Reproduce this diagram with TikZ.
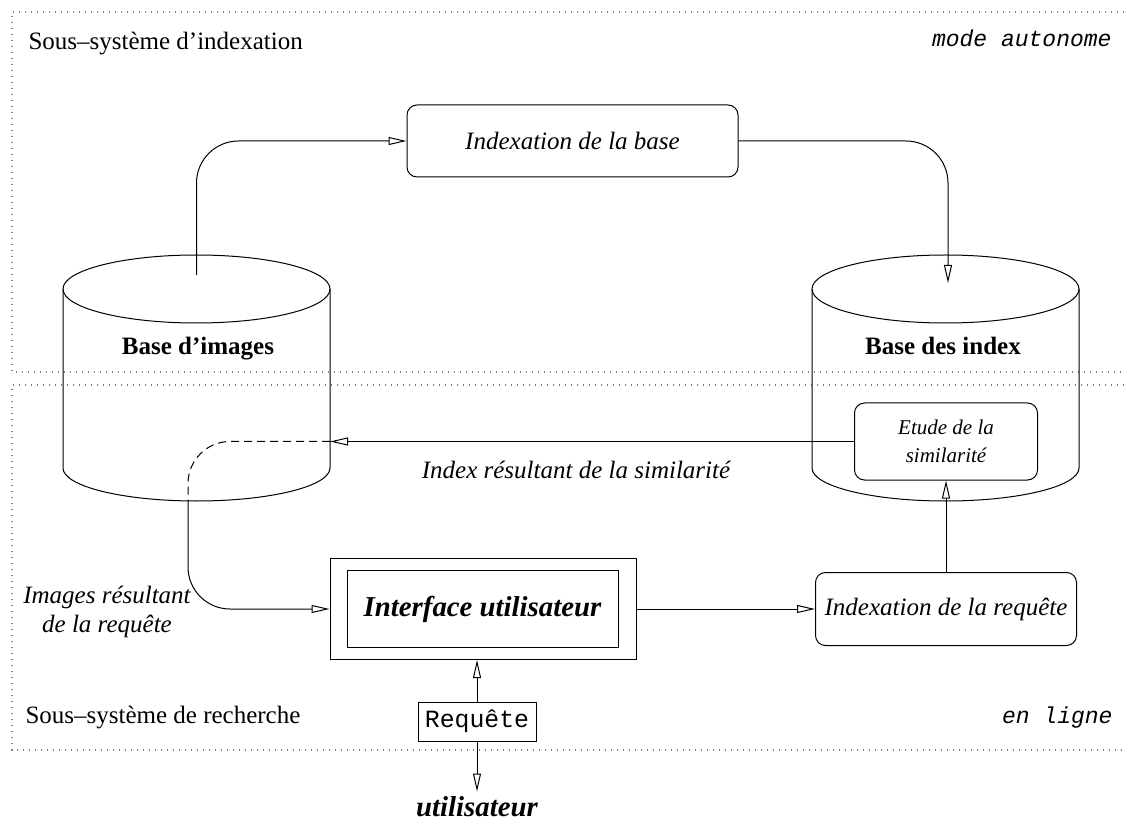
\documentclass[tikz,border=0pt]{standalone}
\usepackage{fontspec}
\setmainfont{Liberation Serif}
\setmonofont{Liberation Mono}
\usetikzlibrary{arrows.meta}
\begin{document}
\begin{tikzpicture}[x=0.5pt,y=-0.5pt,
  line width=0.5pt,
  frame/.style={line width=0.6pt, gray, dash pattern=on 0.6pt off 2.4pt},
  arr/.style={-{Triangle[open,length=9pt,width=4pt]}},
  lbl/.style={inner sep=0pt, font=\fontsize{12.5}{15}\selectfont},
  ilbl/.style={inner sep=0pt, font=\fontsize{12.5}{14.5}\selectfont\itshape},
  blbl/.style={inner sep=0pt, font=\fontsize{12.5}{15}\selectfont\bfseries},
  mono/.style={inner sep=0pt, font=\fontsize{11.5}{14}\selectfont\ttfamily\itshape},
  procbox/.style={draw, rounded corners=5pt, inner sep=0pt, font=\fontsize{12.5}{15}\selectfont\itshape},
  dbdash/.style={dash pattern=on 4pt off 2.5pt}
]
\useasboundingbox (0,0) rectangle (1124,823);

% dotted frames of the two sub-systems
\draw[frame] (1124,12) -- (12,12) -- (12,372) -- (1124,372);
\draw[frame] (1124,385) -- (12,385) -- (12,750) -- (1124,750);

% sub-system labels
\node[lbl, anchor=base west] (tidx) at (28,50) {Sous–système d’indexation};
\node[mono, anchor=base east] (tauto) at (1112,47) {mode autonome};
\node[lbl, anchor=base west] (trech) at (25,723) {Sous–système de recherche};
\node[mono, anchor=base east] (tligne) at (1113,723) {en ligne};

% image database (cylinder)
\draw (63,289) -- (63,468) arc[start angle=180,end angle=0,x radius=133.5,y radius=33] -- (330,289);
\draw (196.5,289) ellipse [x radius=133.5, y radius=34];
\node[blbl, anchor=base] (bimg) at (198,355) {Base d’images};

% index database (cylinder)
\draw (812,289) -- (812,468) arc[start angle=180,end angle=0,x radius=133.5,y radius=33] -- (1079,289);
\draw (945.5,289) ellipse [x radius=133.5, y radius=34];
\node[blbl, anchor=base] (bidx) at (943,355) {Base des index};

% processes
\node[procbox, minimum width=165.5pt, minimum height=36pt] (ib) at (572.5,141) {Indexation de la base};
\node[procbox, minimum width=91.5pt, minimum height=38.5pt, align=center,
      font=\fontsize{10.5}{14}\selectfont\itshape] (etude) at (946,441.5) {Etude de la\\similarité};
\node[procbox, minimum width=130.5pt, minimum height=36.5pt] (irq) at (946,609) {Indexation de la requête};

% user interface (double frame)
\node[draw, minimum width=153pt, minimum height=50.5pt, inner sep=0pt] (iface) at (483,609) {};
\node[draw, minimum width=135.5pt, minimum height=38.5pt, inner sep=0pt,
      font=\fontsize{14.4}{17}\selectfont\bfseries\itshape] (ifin) at (482.5,609) {Interface utilisateur};

% query and user
\node[draw, minimum width=59pt, minimum height=19.5pt, inner sep=0pt,
      font=\fontsize{12.4}{15}\selectfont\ttfamily] (req) at (477,721.5) {Requête};
\node[anchor=base, inner sep=2pt, font=\fontsize{14.4}{17}\selectfont\bfseries\itshape] (user) at (477,816) {utilisateur};

% connector labels
\node[ilbl] (lsim) at (576,470) {Index résultant de la similarité};
\node[ilbl, align=center] (limg) at (107,611.5) {Images résultant\\de la requête};

% connectors
\coordinate (c1top) at (196.5,275);
\coordinate (c2top) at (948,283);
\coordinate (c1right) at (330,441.5);
\coordinate (c1bot) at (188,502);

\draw[arr, rounded corners=21pt] (c1top) |- (ib.west);
\draw[arr, rounded corners=21pt] (ib.east) -| (c2top);
\draw[arr] (etude.west) -- (c1right);
\draw[dbdash, rounded corners=21pt] (c1right) -| (c1bot);
\draw[arr, rounded corners=21pt] (c1bot) |- (iface.west);
\draw[arr] (iface.east) -- (irq.west);
\draw[arr] (irq.north) -- (etude.south);
\draw[arr] (req.north) -- (req.north |- iface.south);
\draw[arr] (req.south) -- (user.north);
\end{tikzpicture}
\end{document}
